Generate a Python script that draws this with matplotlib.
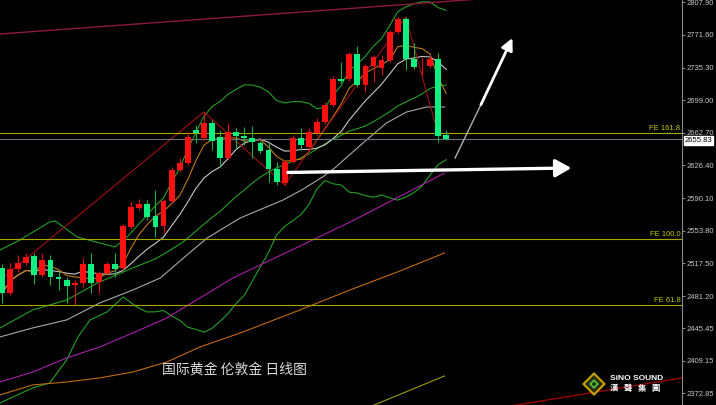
import numpy as np
import pandas as pd
import matplotlib
matplotlib.use("Agg")
import matplotlib.pyplot as plt
from matplotlib.patches import Polygon

plt.rcParams['font.family'] = ['Noto Sans CJK SC', 'DejaVu Sans']

# daily candles, spot gold
opens = [2512.4, 2484.6, 2511.3, 2518.0, 2525.7, 2504.6, 2521.3, 2502.4, 2499.0, 2493.5,
         2495.7, 2516.8, 2496.8, 2506.8, 2516.8, 2512.4, 2558.0, 2579.1, 2583.6, 2570.2,
         2559.1, 2586.9, 2621.4, 2629.1, 2665.8, 2656.9, 2673.6, 2658.1, 2634.7, 2663.6,
         2659.2, 2656.9, 2651.4, 2643.6, 2622.5, 2606.9, 2630.3, 2656.9, 2646.9, 2662.5,
         2674.7, 2693.6, 2722.6, 2722.6, 2750.4, 2715.9, 2737.0, 2734.8, 2743.7, 2774.8,
         2789.3, 2744.8, 2736.5, 2737.0, 2744.8, 2660.3]
highs = [2516.8, 2518.0, 2526.8, 2529.1, 2529.1, 2529.1, 2526.8, 2509.1, 2502.4, 2499.0,
         2523.5, 2529.1, 2509.1, 2519.1, 2529.1, 2561.3, 2585.8, 2589.1, 2588.0, 2599.1,
         2589.1, 2624.7, 2634.7, 2663.6, 2671.4, 2685.9, 2677.0, 2665.8, 2673.6, 2668.1,
         2669.2, 2670.3, 2653.6, 2651.4, 2630.3, 2632.5, 2660.3, 2668.1, 2668.1, 2679.2,
         2697.0, 2725.9, 2741.5, 2752.6, 2759.2, 2739.2, 2749.2, 2749.2, 2777.0, 2791.5,
         2791.5, 2762.6, 2747.0, 2749.2, 2751.5, 2665.8]
lows = [2473.5, 2482.4, 2507.9, 2515.7, 2494.6, 2502.4, 2493.5, 2487.9, 2473.5, 2471.3,
        2491.3, 2484.6, 2484.6, 2504.6, 2502.4, 2510.2, 2555.8, 2576.9, 2565.8, 2546.9,
        2551.3, 2584.7, 2619.1, 2626.9, 2651.4, 2654.7, 2643.6, 2624.7, 2632.5, 2645.8,
        2649.2, 2634.7, 2640.3, 2608.0, 2604.7, 2604.7, 2629.1, 2643.6, 2643.6, 2660.3,
        2672.5, 2691.4, 2718.1, 2720.3, 2713.7, 2708.1, 2719.2, 2727.0, 2741.5, 2772.6,
        2732.6, 2733.7, 2727.0, 2734.8, 2652.5, 2654.7]
closes = [2484.6, 2511.3, 2518.0, 2524.6, 2504.6, 2521.3, 2502.4, 2500.2, 2492.4, 2495.7,
          2516.8, 2495.7, 2506.8, 2516.8, 2511.3, 2559.1, 2580.2, 2583.6, 2569.1, 2558.0,
          2586.9, 2621.4, 2629.1, 2658.1, 2662.5, 2673.6, 2653.6, 2634.7, 2663.6, 2659.2,
          2656.9, 2652.5, 2642.5, 2622.5, 2608.0, 2630.3, 2656.9, 2649.2, 2663.6, 2674.7,
          2693.6, 2722.6, 2720.3, 2750.4, 2715.9, 2737.0, 2747.0, 2743.7, 2774.8, 2789.3,
          2744.8, 2735.9, 2737.0, 2744.8, 2659.2, 2655.83]
last_price = 2655.83

# bollinger band before 20 bars are on screen
bb_early_x = [-0.25, 2.2, 5.9, 6.6, 9.3, 12.1, 14.0, 15.5]
bb_early_up = [2532.4, 2543.5, 2563.5, 2564.6, 2546.9, 2540.2, 2535.7, 2546.9]
mid_early_x = [-0.25, 3.8, 8.0, 11.8, 16.2]
mid_early = [2445.7, 2465.7, 2476.8, 2495.7, 2512.4]
low_early_x = [-0.25, 3.8, 5.9, 8.0, 9.4, 10.9, 13.0, 15.0, 16.7, 17.9]
low_early = [2362.3, 2379.0, 2384.5, 2410.1, 2435.6, 2454.6, 2463.5, 2480.1, 2469.0, 2463.5]

# slower moving averages
ma_gray_x = [-0.25, 3.8, 8.0, 12.1, 16.2, 19.6, 22.9, 25.4, 29.5, 34.8, 37.1, 39.7, 41.2, 44.7, 47.6, 50.1, 52.6, 54.8]
ma_gray = [2435.7, 2445.7, 2454.6, 2473.5, 2487.9, 2501.3, 2526.8, 2545.7, 2568.0, 2588.0, 2599.1, 2613.6, 2623.6, 2651.4, 2673.6, 2685.9, 2691.4, 2691.4]
ma_purple_x = [-0.25, 3.8, 8.0, 12.1, 16.2, 20.4, 24.5, 28.6, 36.9, 43.1, 48.4, 54.8]
ma_purple = [2385.6, 2396.7, 2412.3, 2424.5, 2440.1, 2456.8, 2479.0, 2501.3, 2536.8, 2563.5, 2588.0, 2618.0]
ma_brown_x = [-0.25, 3.8, 8.0, 12.1, 16.2, 20.4, 24.5, 29.5, 36.9, 43.1, 49.3, 54.8]
ma_brown = [2371.2, 2382.3, 2385.6, 2390.1, 2396.7, 2407.8, 2424.5, 2440.1, 2465.7, 2488.0, 2509.1, 2529.1]
ma_olive_x = [45.0, 54.8]
ma_olive = [2356.0, 2392.3]

# zigzag and trend lines
zz_x = [-0.25, 25, 35, 50, 54]
zz_y = [2498.7, 2685.9, 2604.7, 2791.5, 2661.0]
top_line_x = [-0.25, 84.2]
top_line_y = [2772.6, 2827.9]
bot_line_x = [58.0, 84.2]
bot_line_y = [2351.6, 2390.1]

fe_levels = [2662.5, 2544.6, 2471.3]
fe_labels = ['FE 161.8', 'FE 100.0', 'FE 61.8']

y_ticks = [2807.90, 2771.60, 2735.30, 2699.00, 2662.70, 2626.40, 2590.10,
           2553.80, 2517.50, 2481.20, 2445.45, 2409.15, 2372.85]

arrow_up = [(56.1, 2634.7), (59.3, 2694.0), (63.2, 2768.1)]
arrow_flat = [(35.4, 2618.6), (70.5, 2623.6)]

fig = plt.figure(figsize=(7.16, 4.05), dpi=100, facecolor='black')
ax = fig.add_axes([0, 0, 682 / 716, 1])
ax.set_facecolor('black')
ax.set_xlim(-0.25, 84.2)
ax.set_ylim(2360.0, 2810.4)

idx = np.arange(len(closes))
s = pd.Series(closes)
ma5 = s.rolling(5, min_periods=1).mean()
ma10 = s.rolling(10, min_periods=1).mean()
mid = s.rolling(20).mean()
sd = s.rolling(20).std(ddof=0)

bb_x = list(idx[19:])
ax.plot(bb_early_x + bb_x, bb_early_up + list((mid + 2 * sd)[19:]), color='#23a023', lw=0.8)
ax.plot(mid_early_x + bb_x, mid_early + list(mid[19:]), color='#23a023', lw=0.8)
ax.plot(low_early_x + bb_x, low_early + list((mid - 2 * sd)[19:]), color='#23a023', lw=0.8)

ax.plot(ma_gray_x, ma_gray, color='#a8a8a8', lw=0.8)
ax.plot(ma_purple_x, ma_purple, color='#a81ea8', lw=0.8)
ax.plot(ma_brown_x, ma_brown, color='#c06a10', lw=0.8)
ax.plot(ma_olive_x, ma_olive, color='#9a9a10', lw=0.8)
ax.plot(idx, ma10, color='#c8c8c8', lw=0.8)
ax.plot(idx, ma5, color='#c07818', lw=0.8)

ax.plot(zz_x, zz_y, color='#a01010', lw=0.8)
ax.plot(top_line_x, top_line_y, color='#8b1a3c', lw=1.0)
ax.plot(bot_line_x, bot_line_y, color='#990000', lw=1.0)

for lvl, lab in zip(fe_levels, fe_labels):
    ax.axhline(lvl, color='#a8a800', lw=0.8)
    ax.text(84.0, lvl + 1.5, lab, color='#c8c800', fontsize=5.5, ha='right', va='bottom',
            family=['Liberation Sans', 'DejaVu Sans'])
ax.axhline(last_price, color='#6a7080', lw=0.8)

# candles: red = up, green = down
o = np.array(opens)
c = np.array(closes)
up = c >= o
cols = np.where(up, '#ff1010', '#10f080')
ax.vlines(idx, lows, highs, colors=np.where(up, '#e01010', '#20b040'), lw=0.8, zorder=3)
body = np.maximum(np.abs(c - o), 0.8)
ax.bar(idx, body, bottom=np.minimum(o, c), width=0.72, color=cols, linewidth=0, zorder=4)

# arrows
(tx, ty), (mx, my), (hx, hy) = arrow_up
ax.plot([tx, mx], [ty, my], color='#b0b0b0', lw=1.0, zorder=5)
ax.annotate('', xy=(hx, hy), xytext=(mx, my),
            arrowprops=dict(arrowstyle='-|>,head_length=0.7,head_width=0.35',
                            color='white', lw=2.0, mutation_scale=10, shrinkA=0, shrinkB=0), zorder=5)
ax.annotate('', xy=arrow_flat[1], xytext=arrow_flat[0],
            arrowprops=dict(arrowstyle='-|>,head_length=0.8,head_width=0.45',
                            color='white', lw=2.4, mutation_scale=12, shrinkA=0, shrinkB=0), zorder=5)

# right price axis
for sp in ['left', 'top', 'bottom']:
    ax.spines[sp].set_visible(False)
ax.spines['right'].set_color('#8a8a8a')
ax.spines['right'].set_linewidth(0.8)
ax.set_xticks([])
ax.yaxis.tick_right()
ax.set_yticks(y_ticks)
ax.set_yticklabels(['%.2f' % v for v in y_ticks], family=['Liberation Sans', 'DejaVu Sans'])
ax.tick_params(axis='y', colors='#8a8a8a', labelcolor='#c8c8c8', labelsize=5.5, length=2, pad=1)

ax.annotate('%.2f' % last_price, xy=(1.0, last_price), xycoords=('axes fraction', 'data'),
            xytext=(2, -1), textcoords='offset points', va='center', ha='left', fontsize=5.5,
            color='black', family=['Liberation Sans', 'DejaVu Sans'], annotation_clip=False,
            bbox=dict(boxstyle='square,pad=0.12', fc='white', ec='white'))

# caption
fig.text(162 / 716, 1 - 370 / 405, '国际黄金 伦敦金 日线图', color='#dcdcdc', fontsize=10,
         va='center', ha='left')

# logo
def fpt(px, py):
    return (px / 716, 1 - py / 405)

cx, cy = 594, 384
for r, col in [(12, '#c8a000'), (9, '#2a2a10'), (5, '#50c040'), (2.5, '#1a3a10')]:
    pts = [fpt(cx, cy - r), fpt(cx + r, cy), fpt(cx, cy + r), fpt(cx - r, cy)]
    fig.add_artist(Polygon(pts, closed=True, transform=fig.transFigure, fc=col, ec='none'))
fig.text(*fpt(610, 378), 'SiNO SOUND', color='white', fontsize=6, fontweight='bold',
         va='center', ha='left', family=['Liberation Sans', 'DejaVu Sans'])
fig.text(*fpt(610, 388), '漢   聲   集   團', color='white', fontsize=6, fontweight='bold',
         va='center', ha='left', family=['Noto Sans CJK TC', 'DejaVu Sans'])

fig.savefig('out.png', dpi=100, facecolor='black')
